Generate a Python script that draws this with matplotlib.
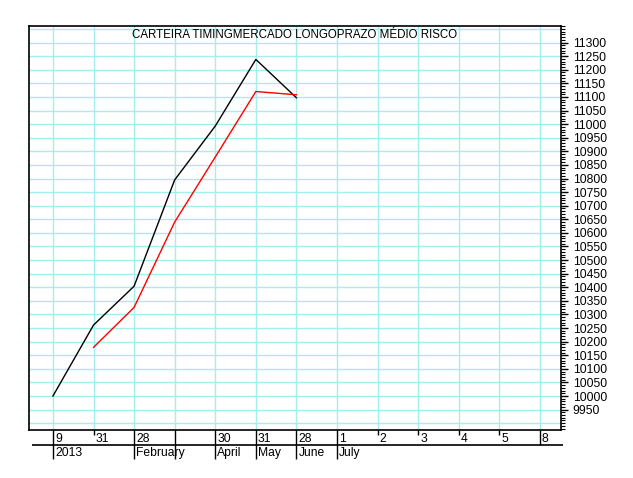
import matplotlib
matplotlib.use("Agg")
import matplotlib.pyplot as plt
from matplotlib.ticker import MultipleLocator

plt.rcParams['font.family'] = ['Liberation Sans', 'DejaVu Sans']

# category positions on the date axis (evenly spaced)
day_labels = ['9', '31', '28', '', '30', '31', '28', '1', '2', '3', '4', '5', '8']
long_tick_idx = [0, 2, 3, 4, 5, 6, 7, 12]
short_tick_idx = [1, 8, 9, 10, 11]
month_idx = [0, 2, 3, 4, 5, 6, 7]
month_labels = ['2013', 'February', '', 'April', 'May', 'June', 'July']

# series
black_x = [0, 1, 2, 3, 4, 5, 6]
black_y = [10000, 10261, 10404, 10795, 10993, 11238, 11097]
red_x = [1, 2, 3, 4, 5, 6]
red_y = [10179, 10326, 10640, 10879, 11120, 11108]

y_labels = list(range(9950, 11301, 50))
y_grid = list(range(9900, 11351, 50))

W, H = 633, 478
fig = plt.figure(figsize=(W / 100, H / 100), dpi=100)

x0, x1 = 29, 561
ytop, ybot = 26, 430
ax = fig.add_axes([x0 / W, 1 - ybot / H, (x1 - x0) / W, (ybot - ytop) / H])

grid_c = '#a4eeee'
for i in range(len(day_labels)):
    ax.axvline(i, color=grid_c, lw=1, zorder=0)
for v in y_grid:
    ax.axhline(v, color=grid_c, lw=1, zorder=0)

ax.plot(black_x, black_y, color='black', lw=1)
ax.plot(red_x, red_y, color='red', lw=1)

ax.set_xlim(-0.59, 12.52)
ax.set_ylim(9875, 11361)
ax.set_xticks([])
ax.yaxis.tick_right()
ax.set_yticks(y_labels)
ax.set_yticklabels([str(v) for v in y_labels], fontsize=8.7)
ax.yaxis.set_minor_locator(MultipleLocator(10))
ax.tick_params(axis='y', which='major', length=5, width=1, pad=3.5, direction='out')
ax.tick_params(axis='y', which='minor', length=3, width=0.8, direction='out')
for s in ax.spines.values():
    s.set_linewidth(1.2)

ax.text(0.5, 1 - 9 / (ybot - ytop), 'CARTEIRA TIMINGMERCADO LONGOPRAZO MÉDIO RISCO',
        transform=ax.transAxes, ha='center', va='center', fontsize=8.3)

# date band below the plot
band_h = 32
bx = fig.add_axes([x0 / W, 1 - (ybot + band_h) / H, (x1 - x0) / W, band_h / H])
bx.set_xlim(ax.get_xlim())
bx.set_ylim(band_h, 0)
bx.axis('off')
bx.vlines(long_tick_idx, 0, 15, color='black', lw=1)
bx.vlines(short_tick_idx, 0, 5, color='black', lw=1)
bx.hlines(15, -0.52, 12.57, color='black', lw=1.2, clip_on=False)
bx.vlines(month_idx, 15, 29, color='black', lw=1, clip_on=False)
for i, lab in enumerate(day_labels):
    bx.annotate(lab, (i, 9), xytext=(1.5, 0), textcoords='offset points',
                ha='left', va='center', fontsize=8.7)
for i, lab in zip(month_idx, month_labels):
    bx.annotate(lab, (i, 23), xytext=(1.5, 0), textcoords='offset points',
                ha='left', va='center', fontsize=8.7, annotation_clip=False)

fig.savefig('out.png', dpi=100)
